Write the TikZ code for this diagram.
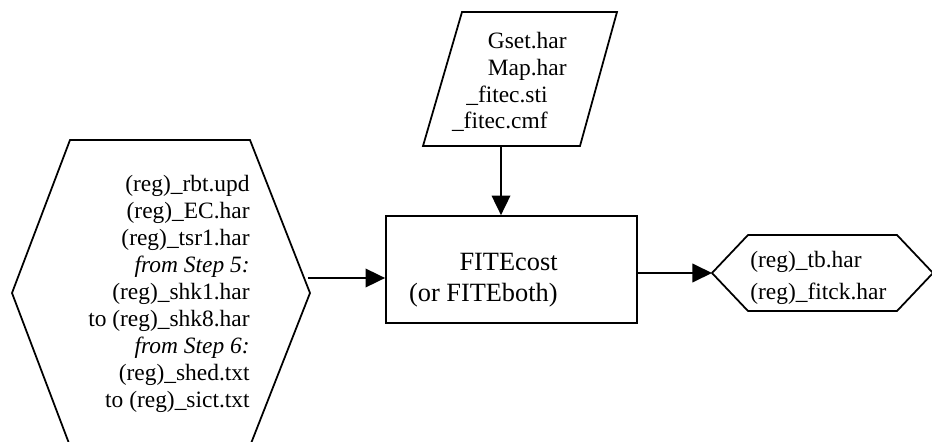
\documentclass[tikz,border=0pt]{standalone}
\usepackage{fontspec}
\setmainfont{Liberation Serif}
\usetikzlibrary{arrows.meta}

\tikzset{
    arr/.style={line width=0.9pt, -{Triangle[length=10pt,width=9.5pt]}},
    shp/.style={line width=0.9pt},
    lbl/.style={inner sep=0pt, font=\fontsize{12}{13.8}\selectfont},
}

\begin{document}
\begin{tikzpicture}[x=0.018cm, y=-0.018cm]
    \useasboundingbox (0,0) rectangle (932,442);

    % Input files from earlier steps
    \draw[shp] (70,140) -- (250,140) -- (310,293) -- (250,446) -- (70,446) -- (12,293) -- cycle;
    \coordinate (inTip) at (308,278);
    \node[lbl, anchor=east, align=right] (infiles) at (250,294) {(reg)\_rbt.upd\\(reg)\_EC.har\\(reg)\_tsr1.har\\
        \textit{from Step 5:}\\(reg)\_shk1.har\\to (reg)\_shk8.har\\
        \textit{from Step 6:}\\(reg)\_shed.txt\\to (reg)\_sict.txt};

    % Fixed input files (top)
    \draw[shp] (462,12) -- (617,12) -- (580,146) -- (423,146) -- cycle;
    \coordinate (inpB) at (501,146);
    \node[lbl, anchor=base east] (gset) at (567,48) {Gset.har};
    \node[lbl, anchor=base east] (map) at (567,75) {Map.har};
    \node[lbl, anchor=base east] (sti) at (548,102) {\_fitec.sti};
    \node[lbl, anchor=base east] (cmf) at (548,128) {\_fitec.cmf};

    % The program
    \node[shp, draw, minimum width=128.6pt, minimum height=54.8pt] (cost) at (511.5,269.5) {};
    \node[inner sep=0pt, anchor=east, align=right, font=\fontsize{13.5}{15.9}\selectfont] (costlbl) at (558,280.5) {FITEcost\\(or FITEboth)};

    % Output files
    \draw[shp] (712,273) -- (748,235) -- (897,235) -- (933,273) -- (897,311) -- (748,311) -- cycle;
    \coordinate (outL) at (712,273);
    \node[inner sep=0pt, anchor=west, align=left, font=\fontsize{12}{16.4}\selectfont] (outfiles) at (750,278) {(reg)\_tb.har\\(reg)\_fitck.har};

    % Arrows
    \draw[arr] (inTip) -- (inTip -| cost.west);
    \draw[arr] (inpB) -- (inpB |- cost.north);
    \draw[arr] (cost.east |- outL) -- (outL);
\end{tikzpicture}
\end{document}
